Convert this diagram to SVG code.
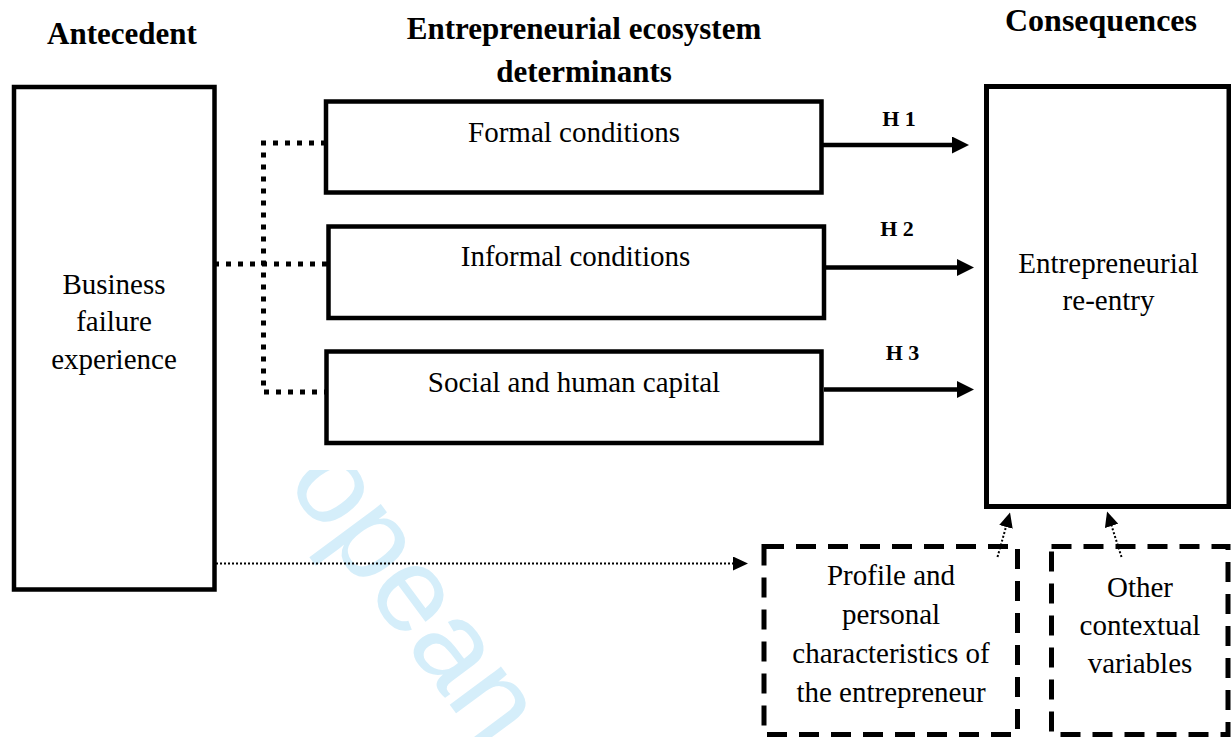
<svg xmlns="http://www.w3.org/2000/svg" width="1231" height="737" viewBox="0 0 1231 737">
<style>
.box{fill:none;stroke:#000;stroke-width:4.5}
.dbox{fill:none;stroke:#000;stroke-width:5;stroke-dasharray:20 12}
.t{font-family:"Liberation Serif","Times New Roman",serif;font-size:29px;fill:#000;text-anchor:middle}
.h{font-family:"Liberation Serif","Times New Roman",serif;font-size:31px;font-weight:bold;fill:#000;text-anchor:middle}
.hl{font-family:"Liberation Serif","Times New Roman",serif;font-size:22px;font-weight:bold;fill:#000;text-anchor:middle}
.arrow{stroke:#000;stroke-width:4.5;fill:none;marker-end:url(#ah)}
.dots{stroke:#000;stroke-width:5;stroke-dasharray:5 7;fill:none}
.fine{stroke:#000;stroke-width:2;stroke-dasharray:2 2;fill:none;marker-end:url(#ahs)}
</style>
<defs>
<marker id="ah" markerUnits="userSpaceOnUse" markerWidth="17" markerHeight="17" refX="2" refY="8.5" orient="auto"><path d="M0,0 L17,8.5 L0,17 z" fill="#000"/></marker>
<marker id="ahs" markerUnits="userSpaceOnUse" markerWidth="15" markerHeight="14" refX="2" refY="7" orient="auto"><path d="M0,0 L15,7 L0,14 z" fill="#000"/></marker>
<clipPath id="wmclip"><rect x="0" y="470" width="1231" height="267"/></clipPath>
</defs>
<g id="watermark" clip-path="url(#wmclip)">
<text transform="translate(172.7,330.3) rotate(53.5)" font-family="Liberation Sans, Arial, sans-serif" font-size="121" fill="#d5eefa">European</text>
</g>
<g id="titles">
<text class="h" x="122" y="44">Antecedent</text>
<text class="h" x="584" y="39">Entrepreneurial ecosystem</text>
<text class="h" x="584" y="82">determinants</text>
<text class="h" x="1101" y="31" style="font-size:32px">Consequences</text>
</g>
<g id="connectors">
<path class="dots" d="M326,143 H263.5 V392 H326"/>
<path class="dots" d="M214,264 H328"/>
<line class="arrow" x1="821" y1="145" x2="954" y2="145"/>
<line class="arrow" x1="826" y1="267.5" x2="959" y2="267.5"/>
<line class="arrow" x1="824" y1="389.5" x2="959" y2="389.5"/>
<line class="fine" x1="216" y1="563.5" x2="735" y2="563.5"/>
<line class="fine" x1="997.5" y1="557" x2="1006.5" y2="525"/>
<line class="fine" x1="1121.5" y1="557" x2="1111" y2="524"/>
<text class="hl" x="899" y="126">H 1</text>
<text class="hl" x="897" y="236">H 2</text>
<text class="hl" x="902.5" y="360">H 3</text>
</g>
<g id="antecedent">
<rect class="box" x="14" y="87" width="200.5" height="502.5"/>
<text class="t" x="114" y="294">Business</text>
<text class="t" x="114" y="331">failure</text>
<text class="t" x="114" y="369">experience</text>
</g>
<g id="formal">
<rect class="box" x="326" y="101.5" width="495.5" height="91"/>
<text class="t" x="574" y="141.5">Formal conditions</text>
</g>
<g id="informal">
<rect class="box" x="328.5" y="226.5" width="495.5" height="91.5"/>
<text class="t" x="575.5" y="266">Informal conditions</text>
</g>
<g id="capital">
<rect class="box" x="326.5" y="351.5" width="495" height="91.5"/>
<text class="t" x="574" y="392">Social and human capital</text>
</g>
<g id="reentry">
<rect class="box" x="986.5" y="86.5" width="242.5" height="420" style="stroke-width:5"/>
<text class="t" x="1108.5" y="273">Entrepreneurial</text>
<text class="t" x="1108.5" y="310">re-entry</text>
</g>
<g id="profile">
<rect class="dbox" x="764" y="546.5" width="253.5" height="188"/>
<text class="t" x="891" y="585">Profile and</text>
<text class="t" x="891" y="624">personal</text>
<text class="t" x="891" y="663">characteristics of</text>
<text class="t" x="891" y="702">the entrepreneur</text>
</g>
<g id="contextual">
<rect class="dbox" x="1051.5" y="546.5" width="176.5" height="188"/>
<text class="t" x="1140" y="597">Other</text>
<text class="t" x="1140" y="635">contextual</text>
<text class="t" x="1140" y="673">variables</text>
</g>
</svg>
